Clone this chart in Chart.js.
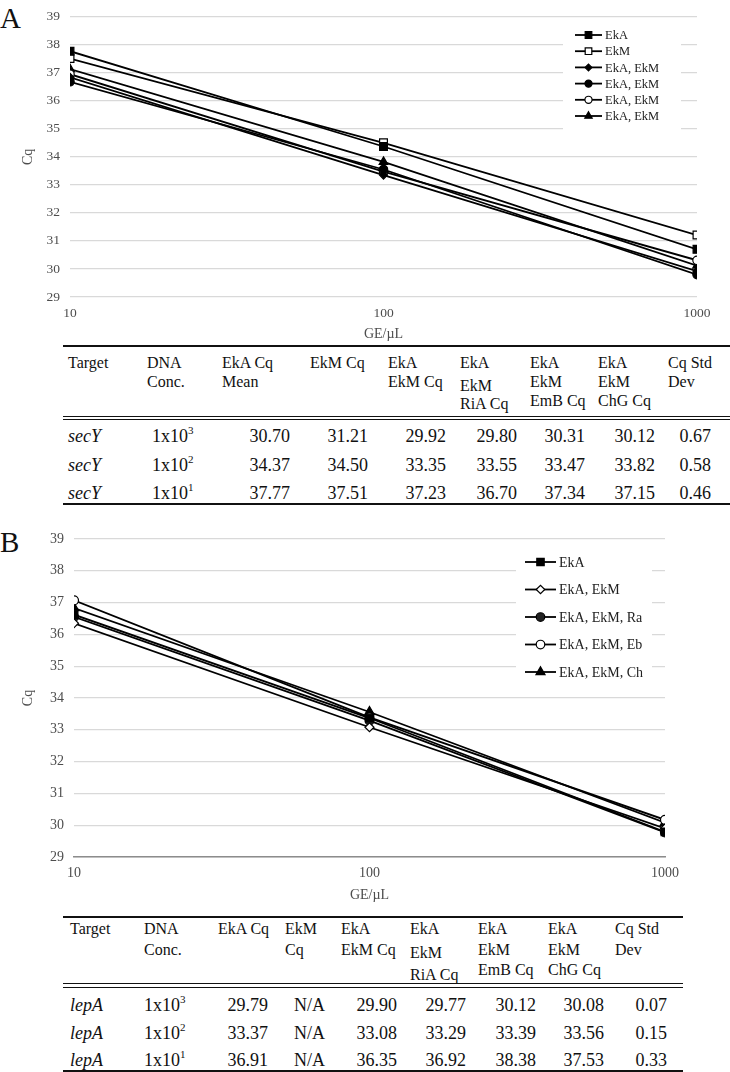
<!DOCTYPE html>
<html>
<head>
<meta charset="utf-8">
<script src="https://cdn.jsdelivr.net/npm/chart.js@4.4.0/dist/chart.umd.min.js"></script>
<style>
  body { margin: 0; background: #fff; font-family: "Liberation Serif", "Times New Roman", serif; color: #111; }
  #page { position: relative; width: 730px; height: 1072px; overflow: hidden; }
  .panel { position: absolute; left: 0; font-size: 29px; line-height: 30px; }
  canvas { position: absolute; left: 0; }
  .t { position: absolute; white-space: nowrap; line-height: 20px; }
  .rule { position: absolute; background: #111; }
</style>
</head>
<body>
<div id="page">
  <div class="panel" style="top:3px">A</div>
  <canvas id="chartA" width="730" height="345" style="top:0"></canvas>
  <div class="panel" style="top:527px">B</div>
  <canvas id="chartB" width="730" height="387" style="top:520px"></canvas>
</div>
<script>
// x values (GE/uL) and tick labels shared by both panels
const geValues = [10, 100, 1000];
const xTicks = [10, 100, 1000];

// Panel A: secY
const namesA = ['EkA', 'EkM', 'EkA, EkM', 'EkA, EkM', 'EkA, EkM', 'EkA, EkM'];
const secyEkA = [37.77, 34.37, 30.70];
const secyEkM = [37.51, 34.50, 31.21];
const secyEkAEkM = [36.84, 33.35, 29.92];
const secyRiA = [36.68, 33.55, 29.80];
const secyEmB = [36.95, 33.47, 30.31];
const secyChG = [37.13, 33.82, 30.12];

// Panel B: lepA
const namesB = ['EkA', 'EkA, EkM', 'EkA, EkM, Ra', 'EkA, EkM, Eb', 'EkA, EkM, Ch'];
const lepaEkA = [36.62, 33.37, 29.79];
const lepaEkAEkM = [36.35, 33.08, 29.90];
const lepaRa = [36.55, 33.29, 29.77];
const lepaEb = [37.07, 33.39, 30.17];
const lepaCh = [36.83, 33.56, 30.08];

// tables under each chart
const headA = [['Target'], ['DNA', 'Conc.'], ['EkA Cq', 'Mean'], ['EkM Cq'], ['EkA', 'EkM Cq'],
  ['EkA', 'EkM', 'RiA Cq'], ['EkA', 'EkM', 'EmB Cq'], ['EkA', 'EkM', 'ChG Cq'], ['Cq Std', 'Dev']];
const targetA = 'secY';
const expA = [3, 2, 1];
const valsA = [
  ['30.70', '31.21', '29.92', '29.80', '30.31', '30.12', '0.67'],
  ['34.37', '34.50', '33.35', '33.55', '33.47', '33.82', '0.58'],
  ['37.77', '37.51', '37.23', '36.70', '37.34', '37.15', '0.46']
];
const headB = [['Target'], ['DNA', 'Conc.'], ['EkA Cq'], ['EkM', 'Cq'], ['EkA', 'EkM Cq'],
  ['EkA', 'EkM', 'RiA Cq'], ['EkA', 'EkM', 'EmB Cq'], ['EkA', 'EkM', 'ChG Cq'], ['Cq Std', 'Dev']];
const targetB = 'lepA';
const expB = [3, 2, 1];
const valsB = [
  ['29.79', 'N/A', '29.90', '29.77', '30.12', '30.08', '0.07'],
  ['33.37', 'N/A', '33.08', '33.29', '33.39', '33.56', '0.15'],
  ['36.91', 'N/A', '36.35', '36.92', '38.38', '37.53', '0.33']
];

const SERIF = '"Liberation Serif", "Times New Roman", serif';

const markersA = [
  { style: 'rect', r: 5.5, fill: '#000' },
  { style: 'rect', r: 5.5, fill: '#fff' },
  { style: 'rectRot', r: 4, fill: '#000' },
  { style: 'circle', r: 4.2, fill: '#000' },
  { style: 'circle', r: 4.2, fill: '#fff' },
  { style: 'triangle', r: 5, fill: '#000' }
];
const markersB = [
  { style: 'rect', r: 5.5, fill: '#000' },
  { style: 'rectRot', r: 4.5, fill: '#fff' },
  { style: 'circle', r: 4.5, fill: '#222' },
  { style: 'circle', r: 4.5, fill: '#fff' },
  { style: 'triangle', r: 5.5, fill: '#000' }
];

// legend with a line through the marker, like the office-style charts
const seriesKey = {
  id: 'seriesKey',
  afterDatasetsDraw(chart, args, o) {
    const ctx = chart.ctx;
    ctx.save();
    ctx.fillStyle = '#fff';
    ctx.fillRect(o.box[0], o.box[1], o.box[2], o.box[3]);
    chart.data.datasets.forEach((ds, i) => {
      const y = o.top + i * o.gap;
      ctx.strokeStyle = '#000';
      ctx.lineWidth = ds.borderWidth;
      ctx.beginPath();
      ctx.moveTo(o.x, y);
      ctx.lineTo(o.x + o.len, y);
      ctx.stroke();
      ctx.fillStyle = ds.pointBackgroundColor;
      ctx.strokeStyle = ds.pointBorderColor;
      ctx.lineWidth = ds.pointBorderWidth;
      Chart.helpers.drawPoint(ctx, { pointStyle: ds.pointStyle, radius: ds.pointRadius * o.scale,
        borderWidth: ds.pointBorderWidth, rotation: 0 }, o.x + o.len / 2, y);
      ctx.fillStyle = '#222';
      ctx.font = o.size + 'px ' + SERIF;
      ctx.textBaseline = 'middle';
      ctx.fillText(ds.label, o.x + o.len + 3, y + 1);
    });
    ctx.restore();
  }
};

function lineChart(id, names, series, markers, g) {
  return new Chart(document.getElementById(id), {
    type: 'line',
    data: {
      datasets: series.map((s, i) => ({
        label: names[i],
        data: geValues.map((x, j) => ({ x: x, y: s[j] })),
        borderColor: '#000',
        borderWidth: 1.8,
        pointStyle: markers[i].style,
        pointRadius: markers[i].r,
        pointBackgroundColor: markers[i].fill,
        pointBorderColor: '#000',
        pointBorderWidth: 1.2,
        tension: 0,
        fill: false
      }))
    },
    options: {
      responsive: false,
      animation: false,
      layout: { padding: { left: 0, top: g.top, right: g.right, bottom: 0 } },
      plugins: { legend: { display: false }, tooltip: { enabled: false }, seriesKey: g.legend },
      scales: {
        x: {
          type: 'logarithmic', min: 10, max: 1000,
          afterBuildTicks: s => { s.ticks = xTicks.map(v => ({ value: v })); },
          afterFit: s => { s.height = g.xh; },
          grid: { display: false, drawTicks: false },
          border: { display: g.xBorder, color: '#8c8c8c', width: 1.6 },
          ticks: { color: '#4d4d4d', font: { family: SERIF, size: g.tick }, padding: 8, maxRotation: 0,
            callback: v => String(v) },
          title: { display: true, text: 'GE/\u00b5L', color: '#4d4d4d', font: { family: SERIF, size: 14 },
            padding: { bottom: g.xTitlePad, top: 0 } }
        },
        y: {
          min: 29, max: 39,
          afterFit: s => { s.width = g.left; },
          grid: { color: '#d9d9d9', lineWidth: 1.3, drawTicks: false },
          border: { display: false },
          ticks: { stepSize: 1, color: '#4d4d4d', font: { family: SERIF, size: g.tick, lineHeight: 1 }, padding: 10 },
          title: { display: true, text: 'Cq', color: '#4d4d4d', font: { family: SERIF, size: 14 },
            padding: { top: 20, bottom: 0 } }
        }
      }
    },
    plugins: [seriesKey]
  });
}

lineChart('chartA', namesA, [secyEkA, secyEkM, secyEkAEkM, secyRiA, secyEmB, secyChG], markersA, {
  top: 7, right: 33, left: 70, xh: 48, tick: 13.5, xBorder: false, xTitlePad: 2,
  legend: { box: [563, 21, 118, 109], x: 575, len: 27, top: 35, gap: 16.2, size: 12.5, scale: 0.85 }
});
lineChart('chartB', namesB, [lepaEkA, lepaEkAEkM, lepaRa, lepaEb, lepaCh], markersB, {
  top: 19, right: 65, left: 74, xh: 50, tick: 14, xBorder: true, xTitlePad: 3,
  legend: { box: [516, 25, 136, 143], x: 525, len: 31, top: 42, gap: 27.5, size: 14, scale: 0.95 }
});

// tables built as positioned text
function addText(html, x, y, size, opts) {
  const d = document.createElement('div');
  d.className = 't';
  d.innerHTML = html;
  d.style.fontSize = size + 'px';
  d.style.top = (y - 10) + 'px';
  if (opts && opts.right) d.style.right = (730 - x) + 'px';
  else d.style.left = x + 'px';
  if (opts && opts.italic) d.style.fontStyle = 'italic';
  document.getElementById('page').appendChild(d);
}
function addRule(x1, x2, y, h) {
  const d = document.createElement('div');
  d.className = 'rule';
  d.style.left = x1 + 'px';
  d.style.width = (x2 - x1) + 'px';
  d.style.top = y + 'px';
  d.style.height = h + 'px';
  document.getElementById('page').appendChild(d);
}
function buildTable(head, target, exps, vals, L) {
  addRule(L.lineL, L.lineR, L.top, 2);
  head.forEach((lines, c) => {
    lines.forEach((txt, k) => {
      const y = L.headY[k] + (c === 5 ? L.riaShift[k] : 0);
      addText(txt, L.colX[c], y, 16);
    });
  });
  addRule(L.lineL, L.lineR, L.dbl[0], 1.3);
  addRule(L.lineL, L.lineR, L.dbl[1], 1.3);
  vals.forEach((row, r) => {
    const y = L.rowY[r];
    addText(target, L.colX[0], y, 18, { italic: true });
    addText('1x10<span style="font-size:11px;position:relative;top:-8px">' + exps[r] + '</span>', L.concX, y, 18);
    row.forEach((v, c) => addText(v, L.valRight[c], y, 18, { right: true }));
  });
  addRule(L.lineL, L.lineR, L.bottom, 2);
}

buildTable(headA, targetA, expA, valsA, {
  colX: [68, 147, 222, 310, 388, 460, 530, 598, 668], concX: 152,
  valRight: [290, 368, 446, 517, 585, 655, 711],
  lineL: 63, lineR: 730, top: 345, headY: [363, 382, 401], riaShift: [0, 4, 3],
  dbl: [415.5, 419], rowY: [436, 465, 493], bottom: 503
});
buildTable(headB, targetB, expB, valsB, {
  colX: [70, 144, 218, 285, 341, 410, 478, 548, 615], concX: 144,
  valRight: [268, 325, 397, 466, 536, 604, 667],
  lineL: 63, lineR: 683, top: 916, headY: [929, 949.5, 970], riaShift: [0, 3, 5],
  dbl: [983, 986.5], rowY: [1005, 1032.5, 1060], bottom: 1070
});
</script>
</body>
</html>
